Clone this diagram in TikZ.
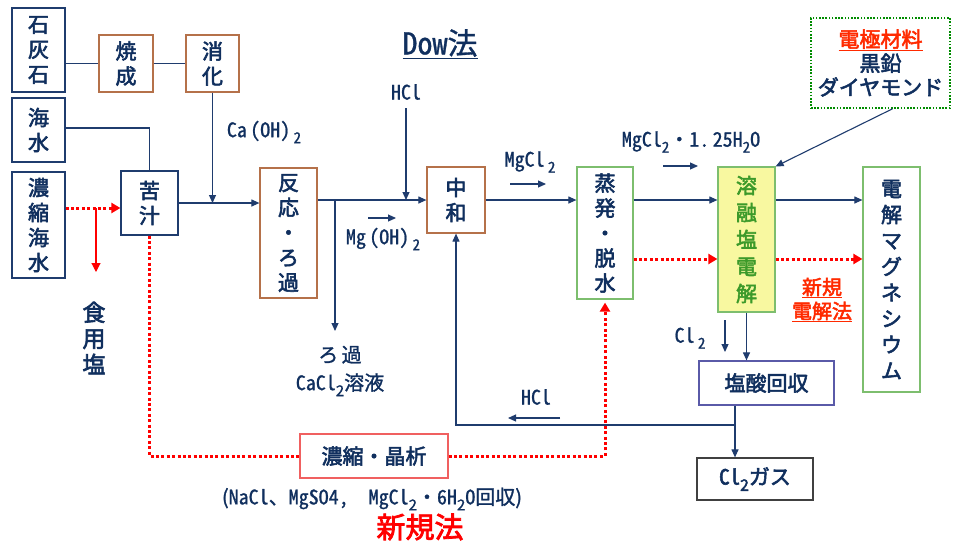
\documentclass[tikz,border=0pt]{standalone}
\usepackage{fontspec}
\usetikzlibrary{arrows.meta,calc}
\newfontfamily\jb{Noto Sans CJK JP}[FakeBold=2.6]
\newfontfamily\jm{Noto Sans CJK JP}[FakeBold=1.2]
\newfontfamily\lm{Noto Sans CJK JP}[CharacterWidth=Half,FakeBold=1.0]
\newfontfamily\lb{Noto Sans CJK JP}[CharacterWidth=Half,FakeBold=2.6]
\newcommand\sbs[1]{\raisebox{-0.3em}{\scalebox{0.75}{#1}}}
\definecolor{navy}{HTML}{1F3C6E}
\definecolor{txt}{HTML}{102F5E}
\definecolor{brownb}{HTML}{B5714A}
\definecolor{greenb}{HTML}{7DBE6E}
\definecolor{greent}{HTML}{3C9A2A}
\definecolor{yel}{HTML}{F8F8A0}
\definecolor{purp}{HTML}{5A5AA8}
\definecolor{grayb}{HTML}{404040}
\definecolor{redb}{HTML}{F06060}
\definecolor{rtxt}{HTML}{FF2A00}
\tikzset{
  wh/.style 2 args={minimum width=#1, minimum height=#2},
  bbox/.style={draw, line width=1.2pt, inner sep=0pt, align=center, text=txt,
    font={\jb\fontsize{21}{25}\selectfont}},
  lbl/.style={inner sep=0pt, align=center, text=txt, font={\lm\fontsize{20}{22}\selectfont}},
  conn/.style={draw=navy, line width=1.1pt},
  arr/.style={conn, -{Triangle[length=8pt,width=7pt]}},
  rdot/.style={draw=red, line width=3pt, dash pattern=on 3pt off 2.4pt},
  rarr/.style={rdot, -{Triangle[length=9pt,width=10pt]}},
}
\begin{document}
\begin{tikzpicture}[x=1pt,y=-1pt]
\useasboundingbox[fill=white] (0,0) rectangle (955,542);

% boxes
\node[bbox, draw=navy, wh={53pt}{84pt}] (sekkai) at (38.5,50) {石\\灰\\石};
\node[bbox, draw=brownb, wh={54pt}{57pt}] (shosei) at (126,63.5) {焼\\成};
\node[bbox, draw=brownb, wh={53pt}{57pt}] (shoka) at (212.5,63.5) {消\\化};
\node[bbox, draw=navy, wh={53pt}{64pt}] (kaisui) at (38.5,130) {海\\水};
\node[bbox, draw=navy, wh={53pt}{106pt}] (noshuku) at (38.5,225) {濃\\縮\\海\\水};
\node[bbox, draw=navy, wh={57pt}{64pt}] (nigari) at (149.5,203) {苦\\汁};
\node[bbox, draw=brownb, wh={57pt}{130pt}] (hanno) at (288.5,233) {反\\応\\・\\ろ\\過};
\node[bbox, draw=brownb, wh={58pt}{66pt}] (chuwa) at (456,200) {中\\和};
\node[bbox, draw=greenb, wh={56pt}{132pt}] (johatsu) at (605,233) {蒸\\発\\・\\脱\\水};
\node[bbox, draw=greenb, fill=yel, text=greent, wh={57pt}{145pt},
      font={\jb\fontsize{21}{27}\selectfont}] (yoyu) at (746.5,239.5) {溶\\融\\塩\\電\\解};
\node[bbox, draw=greenb, wh={57pt}{225pt},
      font={\jb\fontsize{21}{26}\selectfont}] (denmg) at (891.5,279.5) {電\\解\\マ\\グ\\ネ\\シ\\ウ\\ム};
\node[bbox, draw=green!55!black, line width=1.6pt, dash pattern=on 1.6pt off 1.6pt, wh={139pt}{90pt},
      font={\jb\fontsize{21}{24}\selectfont}] (denkyoku) at (880.5,63)
      {\textcolor{rtxt}{\underline{電極材料}}\\黒鉛\\ダイヤモンド};
\node[bbox, draw=purp, wh={135pt}{44pt}] (ensan) at (766.5,383) {塩酸回収};
\node[bbox, draw=grayb, wh={116pt}{42pt}] (cltwo) at (755,479) {{\lb Cl}\sbs{2}ガス};
\node[bbox, draw=redb, wh={148pt}{44pt}] (nsho) at (374,456) {濃縮・晶析};

% labels
\node[lbl, font={\lm\fontsize{30}{32}\selectfont}] (dow) at (440,44) {\underline{Dow法}};
\node[lbl] (caoh) at (264,132) {Ca\,(OH)\,\sbs{2}};
\node[lbl] (hcla) at (406,92) {HCl};
\node[lbl] (mgoh) at (383,239) {Mg\,(OH)\,\sbs{2}};
\node[lbl] (mgcl) at (530,162) {MgCl\,\sbs{2}};
\node[lbl] (mgclh) at (691,142) {MgCl\sbs{2}・1.\,25H\sbs{2}O};
\node[lbl] (hclb) at (536,397) {HCl};
\node[lbl] (cllbl) at (690,338) {Cl\,\sbs{2}};
\node[lbl, font={\jm\fontsize{20}{28}\selectfont}] (roka) at (340,371) {ろ\,過\\{\lm CaCl}\sbs{2}溶液};
\node[lbl, font={\jb\fontsize{23}{26}\selectfont}] (shokuen) at (94,338) {食\\用\\塩};
\node[lbl, font={\jm\fontsize{20}{22}\selectfont}] (paren) at (372,499)
  {({\lm NaCl}、{\lm MgSO4,}\quad{\lm MgCl}\sbs{2}・{\lm 6H}\sbs{2}{\lm O}回収)};
\node[lbl, text=red, font={\jb\fontsize{29}{30}\selectfont}] (shinki) at (420,527) {新規法};
\node[lbl, text=rtxt, font={\jb\fontsize{20}{24}\selectfont}] (shinkid) at (822,300) {\underline{新規}\\\underline{電解法}};

% coordinates
\coordinate (caj) at (shoka.south |- nigari.east);
\coordinate (rd1) at (noshuku.east |- 0,208);
\coordinate (rd2) at (nigari.west |- 0,208);
\coordinate (rsalt) at (96,208);
\coordinate (rsalte) at (96,272);
\coordinate (br) at (335,200);
\coordinate (brend) at (335,331);
\coordinate (jn) at (735,425);
\coordinate (ar1a) at (368,218);
\coordinate (ar1b) at (396,218);
\coordinate (ar2a) at (510,184);
\coordinate (ar2b) at (546,184);
\coordinate (ar3a) at (663,166);
\coordinate (ar3b) at (698,166);
\coordinate (ar4a) at (560,418);
\coordinate (ar4b) at (508,418);
\coordinate (ar5a) at (725,320);
\coordinate (ar5b) at (725,352);
\coordinate (ek) at ($(denkyoku.south)+(12,0)$);

% connectors
\draw[conn] (sekkai.east |- shosei.west) -- (shosei.west);
\draw[conn] (shosei.east) -- (shoka.west);
\draw[arr] (shoka.south) -- (caj);
\draw[conn] (kaisui.east |- 0,128) -| (nigari.north);
\draw[arr] (nigari.east) -- (nigari.east -| hanno.west);
\draw[rarr] (rd1) -- (rd2);
\draw[draw=red, line width=1.1pt, -{Triangle[length=9pt,width=9pt]}] (rsalt) -- (rsalte);
\draw[rdot] (nigari.south) |- (nsho.west);
\draw[rarr, shorten >=3pt] (nsho.east) -| (johatsu.south);
\draw[arr] (hanno.east |- chuwa.west) -- (chuwa.west);
\draw[arr] (br) -- (brend);
\draw[arr, shorten <=8pt] (hcla.south) -- (hcla.south |- chuwa.west);
\draw[arr] (chuwa.east) -- (johatsu.west |- chuwa.east);
\draw[arr] (johatsu.east |- chuwa.east) -- (yoyu.west |- chuwa.east);
\draw[rarr] (johatsu.east |- 0,259) -- (yoyu.west |- 0,259);
\draw[arr] (yoyu.east |- chuwa.east) -- (denmg.west |- chuwa.east);
\draw[rarr] (yoyu.east |- 0,259) -- (denmg.west |- 0,259);
\draw[arr] (ek) -- (yoyu.north east);
\draw[arr] (yoyu.south) -- (yoyu.south |- ensan.north);
\draw[arr] (ensan.south -| jn) -- (cltwo.north -| jn);
\draw[arr] (jn) -| (chuwa.south);
\draw[arr] (ar1a) -- (ar1b);
\draw[arr] (ar2a) -- (ar2b);
\draw[arr] (ar3a) -- (ar3b);
\draw[arr] (ar4a) -- (ar4b);
\draw[arr] (ar5a) -- (ar5b);
\end{tikzpicture}
\end{document}
